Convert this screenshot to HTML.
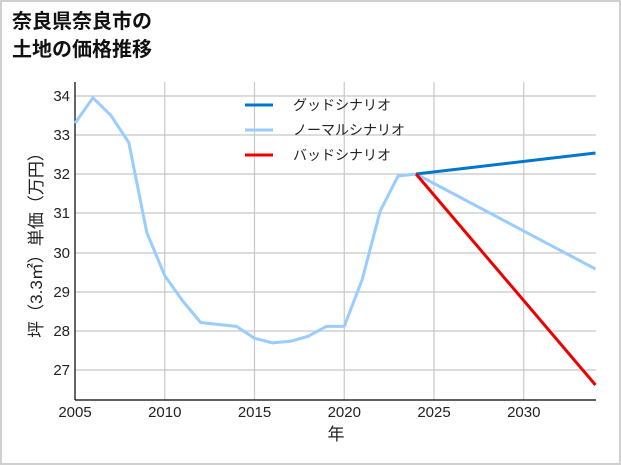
<!DOCTYPE html>
<html><head><meta charset="utf-8"><style>
html,body{margin:0;padding:0;background:#fff;}
body{width:621px;height:465px;overflow:hidden;}
svg{display:block;font-family:"Liberation Sans","Noto Sans CJK JP",sans-serif;}
</style></head><body>
<svg width="621" height="465" viewBox="0 0 621 465">
<rect x="1" y="1" width="619" height="463" fill="#fff" stroke="#d0d0d0" stroke-width="2"/>
<text x="12" y="28" font-size="20" font-weight="bold" fill="#111">奈良県奈良市の</text>
<text x="12" y="56" font-size="20" font-weight="bold" fill="#111">土地の価格推移</text>
<g stroke="#c8c8c8" stroke-width="1.2">
<line x1="164.75" y1="82" x2="164.75" y2="400"/>
<line x1="254.5" y1="82" x2="254.5" y2="400"/>
<line x1="344.25" y1="82" x2="344.25" y2="400"/>
<line x1="434" y1="82" x2="434" y2="400"/>
<line x1="523.75" y1="82" x2="523.75" y2="400"/>
<line x1="75" y1="96" x2="596" y2="96"/>
<line x1="75" y1="135" x2="596" y2="135"/>
<line x1="75" y1="174" x2="596" y2="174"/>
<line x1="75" y1="213" x2="596" y2="213"/>
<line x1="75" y1="253" x2="596" y2="253"/>
<line x1="75" y1="292" x2="596" y2="292"/>
<line x1="75" y1="331" x2="596" y2="331"/>
<line x1="75" y1="370" x2="596" y2="370"/>
</g>
<line x1="75" y1="82" x2="75" y2="400" stroke="#000" stroke-width="1.2"/>
<line x1="75" y1="400" x2="596" y2="400" stroke="#000" stroke-width="1.2"/>
<g font-size="15" fill="#222" text-anchor="end">
<text x="70" y="101">34</text><text x="70" y="140">33</text><text x="70" y="179">32</text>
<text x="70" y="218">31</text><text x="70" y="258">30</text><text x="70" y="297">29</text>
<text x="70" y="336">28</text><text x="70" y="375">27</text>
</g>
<g font-size="15" fill="#222" text-anchor="middle">
<text x="75" y="417">2005</text><text x="164.75" y="417">2010</text><text x="254.5" y="417">2015</text>
<text x="344.25" y="417">2020</text><text x="434" y="417">2025</text><text x="523.75" y="417">2030</text>
<text x="336" y="440" font-size="17">年</text>
</g>
<text transform="translate(42,241) rotate(-90)" font-size="17" fill="#222" text-anchor="middle">坪（3.3㎡）単価（万円）</text>
<polyline fill="none" stroke="#99ccff" stroke-width="3" stroke-linejoin="round" points="75,123.2 92.95,97.8 110.9,115.4 128.85,142.7 146.8,232.6 164.75,275.6 182.7,301 200.65,322.5 218.6,324.5 236.55,326.4 254.5,338.2 272.45,342.9 290.4,341.3 308.35,336.2 326.3,326.4 344.25,326.4 362.2,279.5 380.15,211.1 398.1,176 416.05,174 595.5,269"/>
<line x1="416.05" y1="174" x2="595.5" y2="153" stroke="#0077cc" stroke-width="3"/>
<line x1="416.05" y1="174" x2="595.5" y2="385" stroke="#ee0000" stroke-width="3"/>
<line x1="245" y1="105" x2="273" y2="105" stroke="#0077cc" stroke-width="3"/>
<line x1="245" y1="130" x2="273" y2="130" stroke="#99ccff" stroke-width="3"/>
<line x1="245" y1="155" x2="273" y2="155" stroke="#ee0000" stroke-width="3"/>
<g font-size="14" fill="#222">
<text x="293" y="110">グッドシナリオ</text>
<text x="293" y="135">ノーマルシナリオ</text>
<text x="293" y="160">バッドシナリオ</text>
</g>
</svg>
</body></html>
